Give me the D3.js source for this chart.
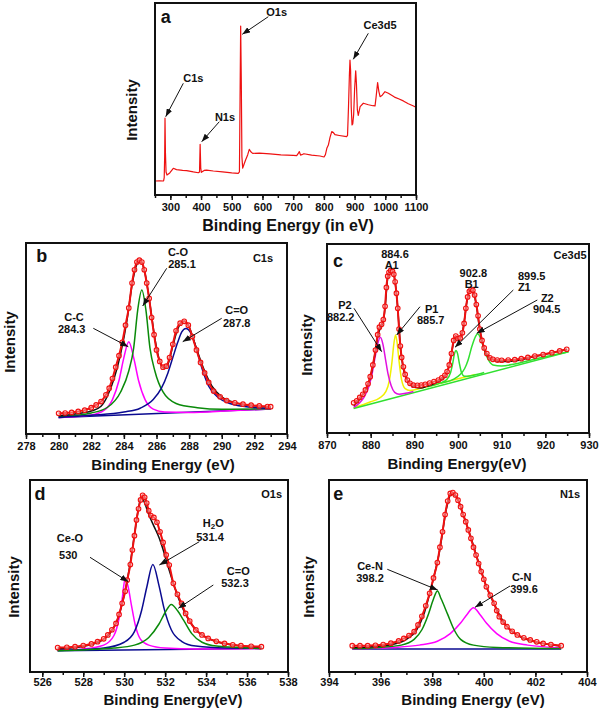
<!DOCTYPE html>
<html><head><meta charset="utf-8">
<script src="https://cdn.jsdelivr.net/npm/d3@7"></script>
<style>
body{margin:0;background:#fff;}
text{font-family:"Liberation Sans",Arial,sans-serif;font-weight:bold;fill:#111;}
</style>
</head><body>
<svg id="chart" width="600" height="710"></svg>
<script>
// ---------------- DATA (intensity in arbitrary units 0-100) ----------------
// Panel a: survey spectrum
const surveySpectrum = [[250,7.3],[265,7.4],[278,7.3],[280,9],[281.5,20],[282.6,40],[284,22],[286,12],[289,10.4],[298,11.5],[309.6,13.9],[320,13.2],[340,12.8],[353,12.7],[375,12],[391,11.6],[395,12],[397,26.4],[399,14],[401,11.8],[410,12.8],[418,13],[440,12.5],[470,12],[500,11.5],[521,11.3],[525,12],[527,50],[529,88],[531,60],[533,20],[535.6,14],[540,16],[545,18.2],[552,21],[557,23.8],[562,22.5],[568,21.7],[590,21.8],[624.6,21.4],[660,20.9],[700,20.6],[711.5,20.5],[716,21.5],[720,22.6],[724,20.8],[728,21],[735,21.5],[760,20.8],[787.5,20.3],[800.5,19.8],[805,21],[810,24.5],[814.6,26],[820,30],[825.6,33],[831,32.5],[836,31.4],[850,31],[874,30.4],[877,31],[880,45],[883,62],[885,70.3],[887,65],[889,46],[891.7,36.5],[894,37],[897,42],[900,55],[903.6,64.7],[906,58],[909,44.3],[912,41.5],[918,46],[928.5,47.8],[945,47],[960,46.5],[966.6,46.4],[970,51],[975,58.5],[979,54],[983,51.2],[990,52],[999,53.8],[1010,53],[1030,51],[1045,50],[1058.7,49],[1075,47.5],[1090,46.5],[1100,45.7]];

// Panel b: C1s
const c1sData = [[280.0,10.8],[280.4,11.0],[280.8,11.3],[281.2,11.8],[281.6,12.5],[282.0,13.8],[282.3,15.2],[282.6,17.0],[282.9,20.5],[283.1,24],[283.3,29],[283.5,35],[283.7,41],[283.9,48],[284.1,57],[284.3,66],[284.5,79],[284.65,86],[284.8,90],[284.95,91],[285.1,90],[285.25,86],[285.4,79],[285.55,71],[285.7,61],[285.85,52],[286.0,44],[286.2,38],[286.4,35],[286.6,35.5],[286.8,40],[287.0,47],[287.2,54],[287.45,58],[287.7,59],[287.95,57],[288.2,51],[288.45,44],[288.7,37.5],[288.95,32],[289.2,27],[289.5,22.5],[289.9,19.5],[290.3,17.5],[290.8,16.3],[291.3,15.6],[291.8,15.1],[292.3,14.7],[292.8,14.4],[293.0,14.3]];
const c1sFit = [[280,9.5],[281,10.5],[282,12],[282.6,14.5],[283,20],[283.4,29],[283.8,42],[284.2,60],[284.5,78],[284.8,89],[285.0,91],[285.3,84],[285.6,68],[285.9,50],[286.2,38],[286.45,34.5],[286.7,36.5],[287.0,46],[287.3,55],[287.7,59],[288.0,56],[288.4,46],[288.9,34],[289.4,25],[290,19.5],[291,16],[292,14.8],[293,14]];
const c1sBackground = [[280,8.7],[293,13.1]];
const c1sCC = [[280,8.7],[282,10],[282.8,12.5],[283.3,18],[283.7,28],[284.0,40],[284.3,48.3],[284.6,40],[284.9,28],[285.3,18],[285.8,13],[286.5,11.5],[288,11.3],[290.5,12.2],[293,13.1]];
const c1sCO = [[280,9],[282,11],[283,14],[283.8,22],[284.3,33],[284.6,45],[284.85,65],[285.1,75.4],[285.35,65],[285.6,45],[285.9,33],[286.4,22],[287.2,16],[288.5,13.8],[290,13],[293,13.2]];
const c1sCdO = [[280,8.7],[282,9.8],[284,11.5],[285,13.5],[285.8,18],[286.3,24],[286.7,32],[287.0,40],[287.3,48],[287.55,53.5],[287.8,55.3],[288.1,53],[288.4,46],[288.8,34],[289.2,25],[289.8,19],[290.5,16],[291.5,14.3],[293,13.3]];

// Panel c: Ce3d5
const ceData = [[876.1,16],[876.8,17],[877.5,18.8],[878.2,20.5],[878.8,22.8],[879.4,26],[879.9,29.8],[880.5,36],[881.1,43.9],[881.6,52],[882.0,56],[882.5,57.5],[882.9,60],[883.3,67],[883.6,77],[883.9,83],[884.2,85],[884.6,86],[885.0,85.5],[885.3,84],[885.6,80],[885.9,74],[886.2,66],[886.5,55],[886.8,46],[887.1,40],[887.5,35],[887.9,31],[888.4,28],[889,26.3],[889.8,25.3],[890.7,25.2],[891.6,25.4],[892.5,25.8],[893.5,26.4],[894.5,27.2],[895.5,28],[896.3,29.2],[897,30.5],[897.5,32.5],[898,36],[898.5,42],[899,49],[899.5,51.3],[900,50],[900.5,50.3],[901,53],[901.4,58],[901.8,66],[902.2,72],[902.6,75],[903,76],[903.4,75.5],[903.8,73],[904.2,68],[904.6,62],[905,55],[905.5,49],[906,45],[906.6,42],[907.3,39.8],[908,39],[909,38.6],[910,38.5],[911.5,38.6],[913,38.8],[914.5,39.3],[916,40],[917.6,40.7],[919.5,41.5],[921.5,42.5],[923.3,43.4],[924.9,44.3]];
const ceFit = [[876.1,14.5],[877,16.5],[878,19.5],[879,23.5],[880,30],[881,42],[881.7,52],[882.3,56],[882.9,59],[883.4,69],[883.9,82],[884.5,86],[885.1,85],[885.6,80],[886.2,66],[886.8,46],[887.4,35],[888,30],[889,26],[890,24.2],[891.5,23.8],[893,24.8],[894.5,26],[896,27.8],[897,30],[898,35.5],[899,48],[899.5,51],[900.1,49.5],[900.6,50.5],[901.3,57],[902,69],[902.8,75.5],[903.4,75],[904.2,67.5],[905,54.5],[906,44.5],[907,40],[908.5,38.4],[910,37.8],[912,37.9],[914,38.5],[917,40.2],[921,42.2],[925,44.2]];
const ceBackground = [[876.1,13],[925.3,43]];
const ceP2 = [[876.1,13.5],[877.5,16],[878.5,19],[879.5,24],[880.3,31],[881.0,40],[881.6,47],[882.2,50.6],[882.8,47],[883.4,39],[884.0,31],[884.7,25],[885.5,21.5],[886.5,20.5],[888,21],[889.8,22]];
const ceP1 = [[876.1,13.2],[880,16.5],[882,18.5],[883.5,22],[884.3,28],[884.9,38],[885.3,47],[885.7,51.9],[886.1,47],[886.5,38],[887.1,28],[887.9,23.5],[889,22.5],[892,24],[896,26.3],[900,28.7],[904,31]];
const ceZ1 = [[893,24.5],[896,26.5],[897.5,28.5],[898.3,32],[898.8,37],[899.2,42],[899.5,43.6],[899.9,42],[900.3,37],[900.8,32],[901.5,30],[903,30.3],[906,32]];
const ceZ2 = [[896,26.5],[899,28.5],[900.5,31],[901.5,34],[902.3,38.5],[903.2,46],[904.0,51],[904.5,52.5],[905.2,50],[906,44],[907,38.5],[908,36],[910,35.5],[913,36.5],[918,39.3],[925.3,43]];

// Panel d: O1s
const o1sData = [[526.75,12.7],[527.2,12.9],[527.6,13.2],[528.0,13.8],[528.4,14.6],[528.7,15.8],[529.0,17.3],[529.2,19.3],[529.4,22],[529.6,25.3],[529.75,30],[529.9,35.8],[530.05,42],[530.15,47.9],[530.3,56],[530.4,63.5],[530.5,71],[530.6,79.2],[530.7,85],[530.8,89.6],[530.9,92],[531.0,91],[531.1,88],[531.2,84],[531.3,81.5],[531.45,80.5],[531.6,78],[531.75,73],[531.9,67.5],[532.05,61],[532.2,55.7],[532.4,46.2],[532.6,40.5],[532.8,35.8],[533.0,30.5],[533.2,26.5],[533.5,21.9],[533.8,19.3],[534.1,17.5],[534.5,16],[534.9,14.9],[535.3,14.2],[535.7,13.7],[536.2,13.4],[536.7,13.2]];
const o1sFit = [[526.75,12],[527.5,12.6],[528.2,13.8],[528.8,15.8],[529.3,20],[529.7,28],[530.0,40],[530.3,57],[530.55,75],[530.75,88],[530.85,91],[531.0,88],[531.2,82],[531.45,76],[531.7,70],[531.95,62],[532.2,53],[532.5,43],[532.8,34.5],[533.1,28],[533.5,22],[534,18],[534.6,15.5],[535.3,14],[536.7,13]];
const o1sBackground = [[526.75,11.1],[536.7,12.3]];
const o1sCeO = [[526.75,11.3],[528,12],[529,14],[529.5,19],[529.75,28],[529.9,38],[530.05,48.8],[530.2,44],[530.35,35],[530.55,24],[530.8,17],[531.2,14],[532,12.5],[533.5,12],[536.7,12.2]];
const o1sH2O = [[526.75,11.2],[529,12.5],[530,15.5],[530.5,21],[530.85,32],[531.1,44],[531.4,56],[531.7,45],[531.95,33],[532.3,22],[532.8,16],[533.5,13.5],[535,12.5],[536.7,12.3]];
const o1sCdO = [[526.75,11.1],[529.5,12.5],[530.5,14],[531.2,18],[531.7,25],[532.0,31],[532.3,35.2],[532.6,32],[532.9,27],[533.3,20],[533.8,15.5],[534.5,13.5],[536.7,12.3]];

// Panel e: N1s
const n1sData = [[394.9,13.7],[395.2,13.7],[395.5,13.7],[395.8,13.9],[396.1,14.3],[396.4,15],[396.7,16.2],[396.9,17.5],[397.1,19],[397.3,21],[397.45,24.5],[397.6,29],[397.75,34.5],[397.9,41],[398.05,49],[398.2,57],[398.3,65],[398.4,73],[398.5,82],[398.6,89],[398.7,93],[398.8,93.5],[398.9,92.2],[399.0,89.5],[399.1,86.1],[399.2,82],[399.3,78.3],[399.4,74],[399.5,69.6],[399.6,65],[399.7,60.9],[399.8,56.5],[399.9,52.3],[400.0,48.3],[400.1,44.4],[400.25,40],[400.4,35.8],[400.5,32],[400.6,28.8],[400.75,26],[400.9,23.6],[401.1,21.2],[401.3,19.3],[401.55,17.8],[401.8,16.7],[402.05,15.7],[402.3,14.9],[402.6,14.3],[403.0,13.7]];
const n1sFit = [[394.9,12.7],[395.5,13],[396,13.5],[396.5,14.5],[397,17],[397.4,22],[397.7,31],[398,46],[398.3,64],[398.55,85],[398.75,93],[398.95,91],[399.2,82],[399.5,70],[399.8,57],[400.1,44.5],[400.4,35.5],[400.7,27.5],[401,22.2],[401.4,18.5],[401.9,16],[402.4,14.6],[403,13.5]];
const n1sBackground = [[394.9,12],[403,12]];
const n1sCeN = [[394.9,12.2],[396,12.8],[396.8,14],[397.3,17],[397.6,22],[397.85,30],[398.05,38],[398.2,42.2],[398.35,38],[398.6,30],[398.85,22],[399.1,17],[399.6,14],[400.5,12.8],[403,12.2]];
const n1sCN = [[394.9,12.1],[396.5,12.8],[397.5,14],[398.2,16],[398.7,20],[399.1,25.5],[399.35,30],[399.6,33.5],[399.85,30],[400.1,25.5],[400.5,20],[401,16],[401.7,14],[403,12.6]];

// Axis tick values
const ticksA = [300,400,500,600,700,800,900,1000,1100];
const ticksB = [278,280,282,284,286,288,290,292,294];
const ticksC = [870,880,890,900,910,920,930];
const ticksD = [526,528,530,532,534,536,538];
const ticksE = [394,396,398,400,402,404];

// ---------------- DRAWING ----------------
const svg = d3.select('#chart');
svg.append('rect').attr('width',600).attr('height',710).attr('fill','#fff');
const defs = svg.append('defs');
defs.append('marker').attr('id','arr').attr('markerUnits','userSpaceOnUse')
  .attr('markerWidth',8).attr('markerHeight',6).attr('refX',8).attr('refY',3).attr('orient','auto')
  .append('path').attr('d','M0,0 L8,3 L0,6 Z').attr('fill','#111');

const RED='#f01010', MAG='#ff00ff', DGREEN='#0a8a0a', NAVY='#0a0a90', YEL='#f0f000', LGREEN='#30e030';

function drawPanel(p){
  const g = svg.append('g');
  const x = d3.scaleLinear().domain(p.domain).range([p.l,p.r]);
  const y = d3.scaleLinear().domain([0,100]).range([p.b,p.t]);
  const line = (curve)=>d3.line().x(d=>x(d[0])).y(d=>y(d[1])).curve(curve);
  // minor ticks
  const ax = g.append('g').attr('transform',`translate(0,${p.b})`);
  ax.call(d3.axisBottom(x).tickValues(p.minor).tickSize(3).tickFormat(''));
  ax.select('.domain').remove();
  ax.selectAll('line').attr('stroke','#111').attr('stroke-width',1.5);
  const ax2 = g.append('g').attr('transform',`translate(0,${p.b})`);
  ax2.call(d3.axisBottom(x).tickValues(p.major).tickSize(5).tickPadding(p.pad===undefined?3:p.pad).tickFormat(d3.format('d')));
  ax2.select('.domain').remove();
  ax2.selectAll('line').attr('stroke','#111').attr('stroke-width',1.5);
  ax2.selectAll('text').attr('font-size',p.tickFont||11).attr('font-family','"Liberation Sans",Arial,sans-serif').attr('font-weight','bold').attr('fill','#111');
  // series
  p.series.forEach(s=>{
    g.append('path').datum(s.data).attr('fill','none').attr('stroke',s.color)
      .attr('stroke-width',s.width||1.5).attr('stroke-linejoin','round')
      .attr('d',line(s.curve||d3.curveMonotoneX));
    if(s.markers){
      g.selectAll(null).data(s.data).enter().append('circle')
        .attr('cx',d=>x(d[0])).attr('cy',d=>y(d[1])).attr('r',2.3)
        .attr('fill','#ffd0d0').attr('fill-opacity',0.4).attr('stroke',s.color).attr('stroke-width',1.1);
    }
  });
  // frame
  g.append('rect').attr('x',p.l).attr('y',p.t).attr('width',p.r-p.l).attr('height',p.b-p.t)
    .attr('fill','none').attr('stroke','#111').attr('stroke-width',2);
}

const range = (a,b,s)=>d3.range(a,b+s/2,s);

drawPanel({domain:[250,1100],l:155,r:416,t:3,b:195,major:ticksA,minor:range(250,1100,50),
  series:[{data:surveySpectrum,color:'#ee1111',width:1.2,curve:d3.curveLinear}]});
drawPanel({domain:[278,294],l:26,r:287,t:243,b:434,major:ticksB,minor:range(278,294,1),
  series:[{data:c1sBackground,color:NAVY,curve:d3.curveLinear},{data:c1sCC,color:MAG},{data:c1sCO,color:DGREEN},{data:c1sCdO,color:NAVY},
          {data:c1sFit,color:'#111'},{data:c1sData,color:RED,width:2,markers:true}]});
drawPanel({domain:[870,930],l:327,r:589,t:244,b:433,major:ticksC,minor:range(870,930,5),
  series:[{data:ceP1,color:YEL},{data:ceBackground,color:LGREEN,curve:d3.curveLinear},{data:ceP2,color:'#e010e0'},{data:ceZ1,color:LGREEN},{data:ceZ2,color:LGREEN},
          {data:ceFit,color:'#111'},{data:ceData,color:RED,width:2,markers:true}]});
drawPanel({domain:[525.4,538],l:30,r:288,t:480,b:672,major:ticksD,minor:range(526,538,1),pad:1,
  series:[{data:o1sBackground,color:NAVY,curve:d3.curveLinear},{data:o1sCeO,color:MAG},{data:o1sH2O,color:NAVY},{data:o1sCdO,color:DGREEN},
          {data:o1sFit,color:'#111'},{data:o1sData,color:RED,width:2,markers:true}]});
drawPanel({domain:[394,404],l:329,r:587,t:480,b:672,major:ticksE,minor:range(394,404,1),pad:1,
  series:[{data:n1sBackground,color:NAVY,curve:d3.curveLinear},{data:n1sCN,color:MAG},{data:n1sCeN,color:DGREEN},
          {data:n1sFit,color:'#111'},{data:n1sData,color:RED,width:2,markers:true}]});

// ---------------- TEXT & ANNOTATIONS ----------------
const labels = [
  ['a',165.7,17,18],['C1s',193.3,78,11],['N1s',225,116.7,11],['O1s',276.7,11.7,11],['Ce3d5',380,25,11],
  ['b',41.7,256,18],['C1s',263,258,11],['C-O',178,252,11],['285.1',182,263.5,11],['C-C',74,317,11],['284.3',71.7,329,11],['C=O',236.7,310,11],['287.8',236.7,322.7,11],
  ['c',338,261,18],['Ce3d5',570,255,11],['884.6',395,254,11],['A1',391.7,265,11],['P2',345,305,11],['882.2',340.7,317.3,11],['P1',431.7,309,11],['885.7',430.7,320,11],
  ['902.8',473.3,273.3,11],['B1',471.7,284.3,11],['899.5',531.7,275.7,11],['Z1',524.3,287.3,11],['Z2',547.3,298.3,11],['904.5',546.7,309.3,11],
  ['d',40,494,18],['O1s',271.7,494,11],['Ce-O',70,538.3,11],['530',68.3,555,11],['531.4',210,537.3,11],['C=O',238.3,570.7,11],['532.3',235,583.3,11],
  ['e',338.3,494,18],['N1s',570,494,11],['Ce-N',370,566,11],['398.2',370,578.3,11],['C-N',521.7,576.7,11],['399.6',524,589.3,11],
  ['Binding Energy (in eV)',288,225,16],['Binding Energy (eV)',163,464,15],['Binding Energy(eV)',457,463,15],
  ['Binding Energy(eV)',173,699,15],['Binding Energy (eV)',473,699,15]
];
svg.selectAll(null).data(labels).enter().append('text')
  .attr('x',d=>d[1]).attr('y',d=>d[2]).attr('font-size',d=>d[3])
  .attr('text-anchor','middle').attr('dominant-baseline','central').text(d=>d[0]);
// H2O with subscript
const h2o = svg.append('text').attr('x',213.3).attr('y',523.3).attr('font-size',11).attr('text-anchor','middle').attr('dominant-baseline','central');
h2o.append('tspan').text('H');
h2o.append('tspan').attr('font-size',8).attr('dy',3).text('2');
h2o.append('tspan').attr('dy',-3).text('O');

const yTitles = [[131,110],[9.5,342],[306,345],[13.3,587],[308.3,587]];
svg.selectAll(null).data(yTitles).enter().append('text')
  .attr('transform',d=>`translate(${d[0]},${d[1]}) rotate(-90)`).attr('font-size',15)
  .attr('text-anchor','middle').attr('dominant-baseline','central').text('Intensity');

const arrows = [
  [183.3,83.3,165.7,116.7],[219.3,121.7,201.7,141.7],[268.3,16.7,242.3,34.3],[368.3,33.3,353.3,59.3],
  [166.7,268.3,142.7,306],[93.3,328.3,128.3,346.7],[221.7,318.3,182.7,341.7],
  [354,308.3,381.7,351.7],[420,306.7,396.7,335],[513.3,290,455,347.3],[537.3,300,476.7,333.3],
  [90,557.3,128.3,581.7],[199.3,541.7,159.3,565],[213.3,585,178.3,608.3],
  [387.3,569.3,437.7,590],[510,586,475,607.3]
];
svg.selectAll(null).data(arrows).enter().append('line')
  .attr('x1',d=>d[0]).attr('y1',d=>d[1]).attr('x2',d=>d[2]).attr('y2',d=>d[3])
  .attr('stroke','#111').attr('stroke-width',1).attr('marker-end','url(#arr)');
</script>
</body></html>
